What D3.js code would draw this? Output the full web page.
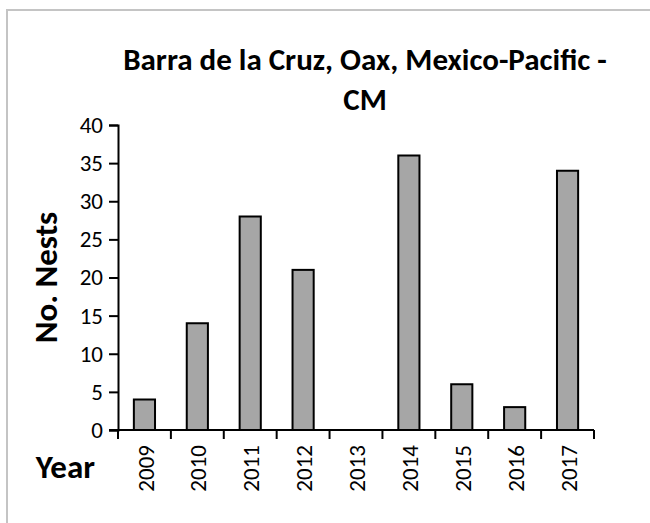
<!DOCTYPE html>
<html lang="en">
<head>
    <meta charset="UTF-8">
    <title>Barra de la Cruz nests</title>
    <script src="https://d3js.org/d3.v7.js"></script>
    <style>
        body { margin: 0; background: #fff; }
        text { font-family: Calibri, Carlito, Lato, sans-serif; fill: #000; }
    </style>
</head>
<body>
    <svg></svg>
    <script>
        const years = ["2009", "2010", "2011", "2012", "2013", "2014", "2015", "2016", "2017"];
        const nests = [4, 14, 28, 21, 0, 36, 6, 3, 34];
        const yTicks = [0, 5, 10, 15, 20, 25, 30, 35, 40];

        const width = 650;
        const height = 523;
        const margin = {left: 118, right: 56, top: 125, bottom: 93};
        const tickFont = "Calibri, Carlito, Lato, sans-serif";

        const svg = d3.select("svg")
            .attr("width", width)
            .attr("height", height);

        // chart frame (only top and left edges fall inside the picture)
        svg.append("rect")
            .attr("x", 7).attr("y", 10)
            .attr("width", 700).attr("height", 600)
            .attr("fill", "none")
            .attr("stroke", "#c4c4c4")
            .attr("stroke-width", 2);

        const x = d3.scaleBand()
            .domain(years)
            .range([margin.left, width - margin.right])
            .paddingInner(0.6)
            .paddingOuter(0.3);

        const y = d3.scaleLinear()
            .domain([0, 40])
            .range([height - margin.bottom, margin.top]);

        // bars
        svg.selectAll(".bar")
            .data(years.map((yr, i) => ({year: yr, value: nests[i]})))
            .join("rect")
            .attr("class", "bar")
            .attr("x", d => x(d.year))
            .attr("y", d => y(d.value))
            .attr("width", x.bandwidth())
            .attr("height", d => y(0) - y(d.value))
            .attr("fill", d => d.value > 0 ? "#a6a6a6" : "none")
            .attr("stroke", d => d.value > 0 ? "#000" : "none")
            .attr("stroke-width", 2);

        // y axis
        const yAxis = svg.append("g")
            .attr("transform", `translate(${margin.left},0)`)
            .call(d3.axisLeft(y).tickValues(yTicks).tickSize(9).tickSizeOuter(9).tickPadding(6));
        yAxis.select(".domain").attr("stroke-width", 2);
        yAxis.selectAll(".tick line").attr("stroke-width", 2);
        yAxis.selectAll("text")
            .style("font-size", "23px")
            .style("font-family", tickFont);

        // x axis: ticks sit between categories
        const xAxisG = svg.append("g")
            .attr("transform", `translate(0,${y(0)})`);
        xAxisG.append("line")
            .attr("x1", margin.left - 9).attr("x2", width - margin.right)
            .attr("stroke", "#000").attr("stroke-width", 2);
        const edges = d3.range(years.length + 1).map(i => margin.left + i * (width - margin.left - margin.right) / years.length);
        xAxisG.selectAll(".xtick")
            .data(edges)
            .join("line")
            .attr("class", "xtick")
            .attr("x1", d => d).attr("x2", d => d)
            .attr("y1", 0).attr("y2", 9)
            .attr("stroke", "#000").attr("stroke-width", 2);
        xAxisG.selectAll(".xlabel")
            .data(years)
            .join("text")
            .attr("class", "xlabel")
            .attr("transform", d => `translate(${x(d) + x.bandwidth() / 2 + 1},15) rotate(-90)`)
            .attr("text-anchor", "end")
            .attr("dy", "0.35em")
            .style("font-size", "23px")
            .text(d => d);

        // titles
        svg.append("text")
            .attr("x", 365).attr("y", 70)
            .attr("text-anchor", "middle")
            .style("font-size", "31px")
            .style("font-weight", "bold")
            .text("Barra de la Cruz, Oax, Mexico-Pacific -");
        svg.append("text")
            .attr("x", 365).attr("y", 110)
            .attr("text-anchor", "middle")
            .style("font-size", "31px")
            .style("font-weight", "bold")
            .text("CM");

        svg.append("text")
            .attr("transform", `translate(57,${(y(0) + y(40)) / 2}) rotate(-90)`)
            .attr("text-anchor", "middle")
            .style("font-size", "33px")
            .style("font-weight", "bold")
            .text("No. Nests");

        svg.append("text")
            .attr("x", 95).attr("y", 478)
            .attr("text-anchor", "end")
            .style("font-size", "33px")
            .style("font-weight", "bold")
            .text("Year");
    </script>
</body>
</html>
